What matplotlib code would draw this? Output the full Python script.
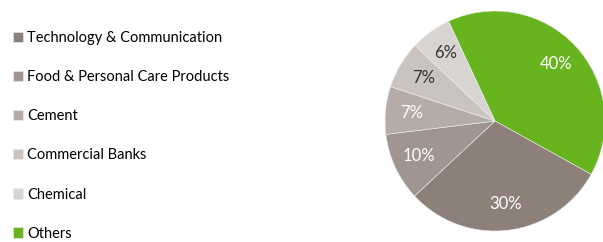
import matplotlib
matplotlib.use("Agg")
import matplotlib.pyplot as plt

plt.rcParams['font.family'] = ['Lato', 'DejaVu Sans']

# sector shares (%)
sectors = ["Technology & Communication", "Food & Personal Care Products", "Cement",
           "Commercial Banks", "Chemical", "Others"]
shares = [30, 10, 7, 7, 6, 40]
colors = ["#8c8079", "#a09591", "#b5aca8", "#c9c4c0", "#d8d4d1", "#67b41e"]
label_colors = ["white", "white", "white", "#333333", "#333333", "white"]

fig = plt.figure(figsize=(6.03, 2.42), dpi=100)
ax = fig.add_axes([385 / 603, 11 / 242, 220 / 603, 220 / 242])

# start with "Others" drawn from the upper-left, clockwise
order = [5, 0, 1, 2, 3, 4]
wedges, texts, autotexts = ax.pie(
    [shares[i] for i in order],
    colors=[colors[i] for i in order],
    startangle=115, counterclock=False,
    autopct="%d%%", pctdistance=0.76,
    wedgeprops=dict(linewidth=0.4, edgecolor="#eeeeee"),
    textprops=dict(fontsize=12),
)
for t, i in zip(autotexts, order):
    t.set_color(label_colors[i])
ax.set_aspect("equal")
ax.set_xlim(-1, 1)
ax.set_ylim(-1, 1)

# legend in original order
handles = [wedges[order.index(i)] for i in range(len(sectors))]
fig.legend(handles, sectors, loc="upper left", bbox_to_anchor=(0.012, 0.895),
           frameon=False, fontsize=10.5, handlelength=0.7, handleheight=0.7,
           handletextpad=0.25, labelspacing=1.72, borderaxespad=0)

fig.savefig("out.png", dpi=100)
